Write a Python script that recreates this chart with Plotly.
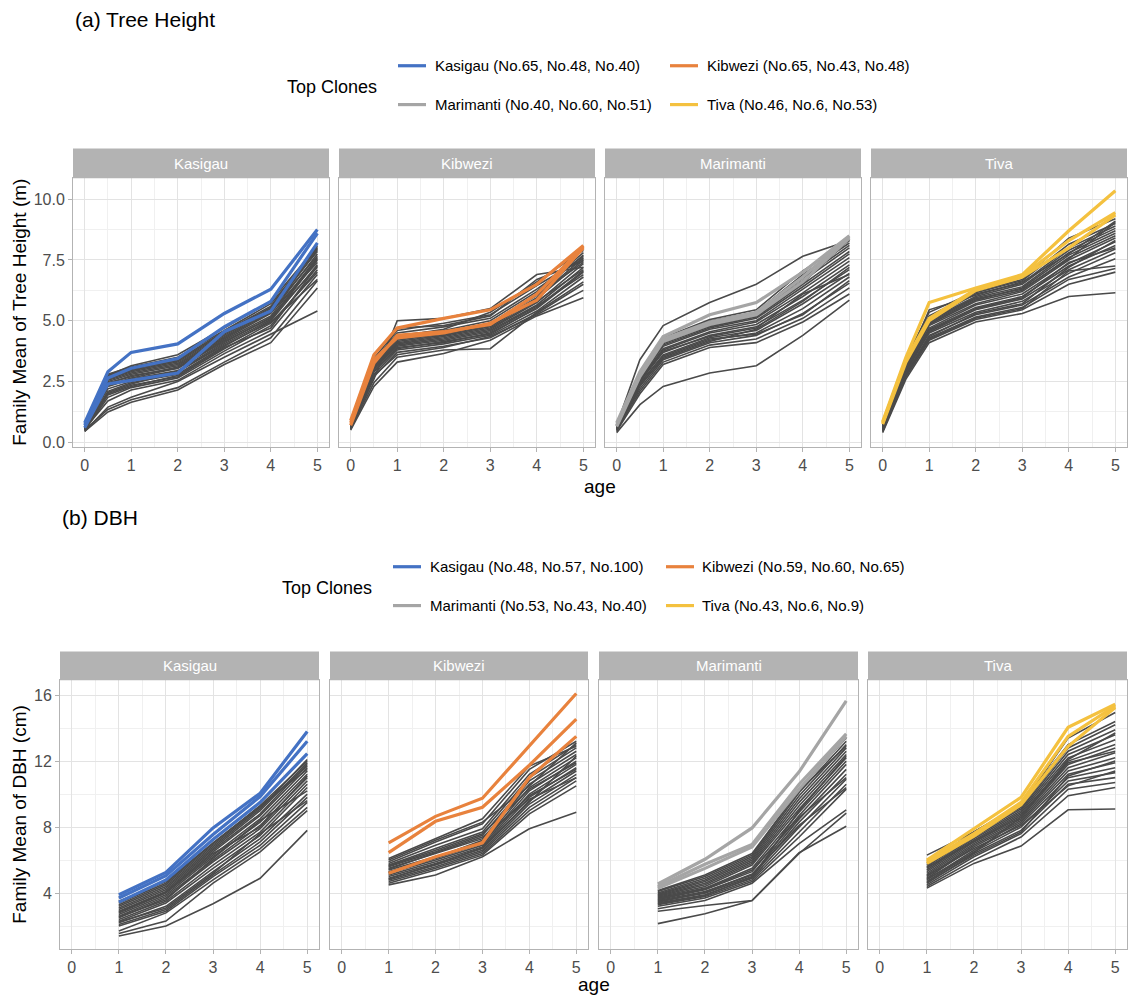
import plotly.graph_objects as go

W, H = 1128, 1001
FONT = "Liberation Sans, Arial, sans-serif"

# ---------------------------------------------------------------- data
SITES = ["Kasigau", "Kibwezi", "Marimanti", "Tiva"]
SITE_COLORS = ["#4472C4", "#E8823D", "#A5A5A5", "#F4C13F"]
FAMILY_COLOR = "#4A4A4A"

HEIGHT_AGES = [0, 0.5, 1, 2, 3, 4, 5]
DBH_AGES = [1, 2, 3, 4, 5]

height_top_labels = [
    "Kasigau (No.65, No.48, No.40)",
    "Kibwezi (No.65, No.43, No.48)",
    "Marimanti (No.40, No.60, No.51)",
    "Tiva (No.46, No.6, No.53)",
]
dbh_top_labels = [
    "Kasigau (No.48, No.57, No.100)",
    "Kibwezi (No.59, No.60, No.65)",
    "Marimanti (No.53, No.43, No.40)",
    "Tiva (No.43, No.6, No.9)",
]

# Tree height (m), family means at ages 0, 0.5, 1, 2, 3, 4, 5
height_kasigau = [
    [0.45, 1.25, 1.65, 2.15, 3.20, 4.10, 6.35],
    [0.50, 1.35, 1.75, 2.25, 3.30, 4.30, 6.65],
    [0.45, 1.45, 1.85, 2.50, 3.50, 4.45, 5.40],
    [0.55, 1.70, 2.15, 2.55, 3.65, 4.60, 6.90],
    [0.50, 1.85, 2.25, 2.65, 3.75, 4.80, 7.10],
    [0.60, 2.00, 2.35, 2.70, 3.85, 4.90, 7.00],
    [0.55, 2.10, 2.45, 2.80, 3.95, 5.00, 7.30],
    [0.65, 2.20, 2.50, 2.90, 4.05, 5.05, 7.50],
    [0.60, 2.30, 2.60, 2.95, 4.10, 5.15, 7.20],
    [0.55, 2.35, 2.65, 3.05, 4.20, 5.20, 7.60],
    [0.70, 2.45, 2.70, 3.10, 4.25, 5.30, 7.75],
    [0.65, 2.50, 2.80, 3.15, 4.30, 5.35, 7.40],
    [0.60, 2.55, 2.85, 3.20, 4.35, 5.40, 7.90],
    [0.70, 2.60, 2.90, 3.25, 4.40, 5.45, 7.65],
    [0.75, 2.65, 2.95, 3.30, 4.45, 5.50, 8.00],
    [0.65, 2.70, 3.00, 3.35, 4.50, 5.55, 7.85],
    [0.70, 2.75, 3.05, 3.40, 4.55, 5.60, 8.10],
    [0.60, 2.80, 3.10, 3.50, 4.60, 5.70, 7.95],
    [0.75, 2.75, 3.15, 3.60, 4.70, 5.80, 8.05],
    [0.55, 2.05, 2.40, 2.90, 4.00, 4.95, 6.70],
    [0.50, 1.95, 2.30, 2.75, 3.90, 4.70, 7.25],
    [0.65, 2.40, 2.75, 3.05, 4.15, 5.10, 7.55],
]
height_kasigau_top = [
    [0.80, 2.90, 3.70, 4.05, 5.30, 6.30, 8.75],
    [0.70, 2.65, 3.05, 3.45, 4.75, 5.80, 8.60],
    [0.60, 2.40, 2.55, 2.85, 4.55, 5.40, 8.20],
]

height_kibwezi = [
    [0.50, 2.30, 3.30, 3.65, 4.20, 5.20, 5.95],
    [0.55, 2.45, 3.50, 3.80, 3.85, 5.35, 6.60],
    [0.60, 2.60, 5.00, 5.10, 5.50, 6.90, 7.20],
    [0.55, 2.70, 3.70, 3.95, 4.30, 5.30, 6.50],
    [0.60, 2.80, 3.80, 4.05, 4.40, 5.40, 6.80],
    [0.65, 2.90, 3.90, 4.10, 4.50, 5.50, 7.00],
    [0.60, 3.00, 3.95, 4.20, 4.55, 5.60, 6.90],
    [0.70, 3.05, 4.00, 4.25, 4.60, 5.65, 7.20],
    [0.65, 3.10, 4.05, 4.30, 4.65, 5.75, 7.35],
    [0.75, 3.15, 4.10, 4.35, 4.70, 5.80, 7.10],
    [0.70, 3.20, 4.15, 4.40, 4.75, 5.90, 7.50],
    [0.60, 3.25, 4.20, 4.45, 4.80, 5.95, 7.60],
    [0.75, 3.30, 4.25, 4.50, 4.85, 6.05, 7.40],
    [0.70, 3.35, 4.30, 4.55, 4.90, 6.10, 7.70],
    [0.80, 3.40, 4.40, 4.60, 5.00, 6.20, 7.80],
    [0.65, 3.30, 4.50, 4.75, 5.10, 6.30, 7.65],
    [0.75, 3.45, 4.60, 4.90, 5.25, 6.45, 7.55],
    [0.70, 3.20, 4.35, 4.65, 5.35, 6.60, 7.90],
    [0.60, 2.95, 3.85, 4.15, 4.45, 5.55, 7.05],
    [0.55, 2.75, 3.60, 3.90, 4.35, 5.25, 6.25],
    [0.65, 3.10, 4.70, 4.80, 5.20, 6.70, 7.45],
]
height_kibwezi_top = [
    [0.90, 3.60, 4.70, 5.10, 5.45, 6.50, 8.10],
    [0.80, 3.40, 4.30, 4.50, 4.90, 5.85, 8.00],
    [0.70, 3.25, 4.40, 4.55, 4.85, 6.10, 8.05],
]

height_marimanti = [
    [0.40, 1.55, 2.30, 2.85, 3.15, 4.40, 5.85],
    [0.70, 3.40, 4.80, 5.75, 6.50, 7.65, 8.30],
    [0.45, 2.00, 3.20, 3.90, 4.10, 4.95, 6.10],
    [0.50, 2.10, 3.30, 4.00, 4.25, 5.10, 6.35],
    [0.55, 2.20, 3.40, 4.10, 4.40, 5.30, 6.55],
    [0.50, 2.30, 3.50, 4.20, 4.50, 5.50, 6.80],
    [0.60, 2.40, 3.60, 4.30, 4.60, 5.70, 6.95],
    [0.55, 2.50, 3.70, 4.40, 4.75, 5.85, 7.10],
    [0.65, 2.55, 3.80, 4.50, 4.85, 6.00, 7.30],
    [0.60, 2.60, 3.85, 4.55, 4.95, 6.15, 7.45],
    [0.70, 2.65, 3.95, 4.65, 5.00, 6.30, 7.60],
    [0.65, 2.70, 4.00, 4.70, 5.10, 6.40, 7.75],
    [0.60, 2.75, 4.05, 4.75, 5.15, 6.50, 7.85],
    [0.70, 2.80, 4.10, 4.85, 5.25, 6.65, 8.00],
    [0.75, 2.85, 4.20, 4.90, 5.30, 6.75, 8.10],
    [0.65, 2.90, 4.25, 5.00, 5.35, 6.90, 8.20],
    [0.70, 2.75, 4.30, 5.05, 5.45, 7.05, 8.30],
    [0.60, 2.45, 3.55, 4.25, 4.45, 5.25, 6.65],
    [0.55, 2.35, 3.45, 4.15, 4.65, 5.80, 7.20],
    [0.60, 2.60, 3.75, 4.35, 4.70, 6.10, 6.90],
    [0.65, 2.85, 4.15, 4.80, 5.20, 6.55, 8.35],
]
height_marimanti_top = [
    [0.80, 2.90, 4.35, 5.25, 5.75, 7.00, 8.50],
    [0.70, 2.80, 4.25, 4.95, 5.35, 6.80, 8.45],
    [0.65, 2.70, 4.15, 4.85, 5.25, 6.60, 8.40],
]

height_tiva = [
    [0.40, 2.60, 4.10, 4.95, 5.30, 6.00, 6.15],
    [0.45, 2.70, 4.20, 5.05, 5.45, 6.50, 7.00],
    [0.50, 2.75, 4.30, 5.15, 5.55, 6.70, 7.15],
    [0.45, 2.80, 4.40, 5.25, 5.65, 6.80, 7.55],
    [0.55, 2.90, 4.50, 5.35, 5.80, 6.95, 7.80],
    [0.50, 2.95, 4.55, 5.45, 5.90, 7.10, 7.95],
    [0.60, 3.00, 4.65, 5.55, 6.00, 7.25, 8.10],
    [0.55, 3.05, 4.70, 5.65, 6.10, 7.35, 8.25],
    [0.60, 3.10, 4.80, 5.70, 6.20, 7.50, 8.40],
    [0.65, 3.15, 4.85, 5.80, 6.25, 7.60, 8.50],
    [0.60, 3.20, 4.90, 5.85, 6.35, 7.70, 8.60],
    [0.70, 3.25, 5.00, 5.95, 6.40, 7.80, 8.70],
    [0.65, 3.30, 5.05, 6.00, 6.50, 7.90, 8.80],
    [0.70, 3.35, 5.10, 6.10, 6.55, 8.00, 8.90],
    [0.75, 3.40, 5.20, 6.15, 6.65, 8.15, 9.00],
    [0.70, 3.45, 5.35, 6.20, 6.70, 8.40, 9.20],
    [0.65, 3.20, 5.45, 6.05, 6.60, 7.75, 9.10],
    [0.55, 2.85, 4.35, 5.30, 5.70, 7.20, 8.30],
    [0.60, 3.05, 4.60, 5.50, 5.95, 7.40, 8.00],
    [0.50, 2.70, 4.25, 5.10, 5.50, 7.05, 7.25],
    [0.65, 3.30, 4.95, 5.90, 6.30, 7.55, 9.05],
]
height_tiva_top = [
    [0.85, 3.50, 5.75, 6.35, 6.90, 8.70, 10.35],
    [0.80, 3.40, 5.10, 6.30, 6.85, 8.30, 9.45],
    [0.75, 3.30, 5.00, 6.25, 6.80, 8.00, 9.35],
]

# DBH (cm), family means at ages 1-5
dbh_kasigau = [
    [1.40, 2.00, 3.35, 4.90, 7.80],
    [1.55, 2.30, 4.60, 6.50, 9.00],
    [1.70, 2.80, 4.80, 6.70, 9.20],
    [2.00, 2.90, 5.00, 6.90, 9.50],
    [2.10, 3.00, 5.10, 7.10, 9.80],
    [2.20, 3.20, 5.30, 7.30, 10.00],
    [2.30, 3.40, 5.50, 7.50, 10.40],
    [2.40, 3.50, 5.70, 7.70, 10.60],
    [2.50, 3.70, 5.90, 7.90, 10.80],
    [2.60, 3.80, 6.00, 8.10, 11.00],
    [2.70, 3.90, 6.20, 8.30, 11.20],
    [2.80, 4.00, 6.30, 8.50, 11.40],
    [2.90, 4.10, 6.50, 8.70, 11.60],
    [3.00, 4.20, 6.60, 8.80, 11.80],
    [3.10, 4.30, 6.70, 9.00, 11.90],
    [3.20, 4.40, 6.80, 9.10, 12.10],
    [3.30, 4.50, 6.90, 9.20, 11.70],
    [3.40, 4.60, 7.00, 9.30, 12.00],
    [3.50, 4.70, 7.05, 9.25, 11.50],
    [2.25, 3.10, 5.20, 7.60, 9.60],
    [2.55, 3.60, 6.10, 8.40, 10.20],
    [2.85, 4.05, 6.40, 8.00, 11.10],
]
dbh_kasigau_top = [
    [3.90, 5.25, 7.95, 10.05, 13.80],
    [3.70, 5.05, 7.55, 9.85, 13.20],
    [3.45, 4.80, 7.25, 9.50, 12.45],
]

dbh_kibwezi = [
    [4.50, 5.10, 6.20, 7.90, 8.90],
    [4.60, 5.40, 6.30, 8.80, 10.50],
    [4.70, 5.50, 6.40, 9.00, 10.80],
    [4.80, 5.60, 6.50, 9.20, 11.00],
    [4.90, 5.70, 6.60, 9.40, 11.20],
    [5.00, 5.80, 6.70, 9.60, 11.40],
    [5.10, 5.90, 6.80, 9.80, 11.60],
    [5.20, 6.00, 6.90, 10.00, 11.80],
    [5.30, 6.10, 7.00, 10.20, 12.00],
    [5.40, 6.20, 7.10, 10.40, 12.20],
    [5.50, 6.40, 7.30, 10.60, 12.40],
    [5.60, 6.50, 7.50, 10.80, 12.60],
    [5.70, 6.70, 7.70, 11.00, 12.80],
    [5.80, 6.90, 7.90, 11.20, 13.00],
    [5.90, 7.10, 8.20, 11.50, 13.20],
    [6.10, 7.30, 8.50, 11.70, 12.90],
    [6.00, 7.20, 8.30, 10.50, 13.10],
    [5.25, 6.15, 7.20, 9.90, 11.50],
    [5.45, 6.45, 7.40, 9.70, 11.00],
    [4.85, 5.75, 6.75, 9.50, 12.30],
    [5.65, 6.60, 7.60, 10.30, 11.90],
]
dbh_kibwezi_top = [
    [7.05, 8.65, 9.75, 12.90, 16.10],
    [6.45, 8.35, 9.20, 11.75, 14.55],
    [5.20, 6.20, 7.05, 11.00, 13.50],
]

dbh_marimanti = [
    [2.15, 2.75, 3.55, 6.45, 8.05],
    [2.90, 3.25, 3.55, 6.40, 8.85],
    [3.05, 3.55, 4.60, 7.00, 9.05],
    [3.20, 3.70, 4.70, 7.40, 10.30],
    [3.30, 3.80, 4.80, 7.70, 10.60],
    [3.40, 3.90, 4.90, 8.00, 10.90],
    [3.50, 4.00, 5.00, 8.30, 11.20],
    [3.55, 4.10, 5.10, 8.50, 11.50],
    [3.60, 4.20, 5.30, 8.70, 11.80],
    [3.70, 4.30, 5.50, 8.90, 12.00],
    [3.75, 4.40, 5.70, 9.10, 12.20],
    [3.80, 4.50, 5.80, 9.30, 12.40],
    [3.85, 4.60, 5.90, 9.50, 12.60],
    [3.90, 4.70, 6.00, 9.70, 12.80],
    [3.95, 4.80, 6.10, 9.90, 13.00],
    [4.00, 4.90, 6.20, 10.10, 13.20],
    [4.10, 5.00, 6.30, 10.30, 13.40],
    [4.15, 5.10, 6.40, 10.20, 12.90],
    [3.45, 4.05, 5.15, 8.10, 10.40],
    [3.65, 4.25, 5.40, 8.60, 11.00],
    [3.35, 3.85, 4.95, 9.00, 12.30],
]
dbh_marimanti_top = [
    [4.55, 6.05, 7.95, 11.35, 15.65],
    [4.40, 5.75, 6.95, 10.60, 13.65],
    [4.30, 5.50, 6.80, 10.30, 13.50],
]

dbh_tiva = [
    [4.30, 5.80, 6.85, 9.05, 9.10],
    [4.40, 6.00, 7.40, 9.90, 10.40],
    [4.50, 6.20, 7.60, 10.30, 10.70],
    [4.60, 6.40, 7.80, 10.60, 11.00],
    [4.70, 6.50, 8.00, 10.80, 11.30],
    [4.80, 6.60, 8.20, 11.00, 11.60],
    [4.90, 6.80, 8.30, 11.20, 11.90],
    [5.00, 6.90, 8.40, 11.40, 12.20],
    [5.10, 7.00, 8.50, 11.60, 12.50],
    [5.20, 7.10, 8.60, 11.80, 12.80],
    [5.30, 7.20, 8.80, 12.00, 13.00],
    [5.40, 7.30, 8.90, 12.20, 13.30],
    [5.50, 7.40, 9.00, 12.40, 13.60],
    [5.60, 7.50, 9.10, 12.60, 13.90],
    [5.70, 7.60, 9.20, 12.80, 14.20],
    [6.30, 7.70, 9.30, 13.40, 14.95],
    [5.80, 7.70, 9.40, 13.00, 14.40],
    [4.65, 6.30, 7.70, 11.10, 12.00],
    [5.05, 6.70, 8.10, 10.50, 11.40],
    [5.55, 7.15, 8.70, 11.90, 12.60],
    [4.85, 6.45, 8.60, 12.10, 13.70],
]
dbh_tiva_top = [
    [6.00, 7.90, 9.80, 14.05, 15.45],
    [5.90, 7.60, 9.50, 13.50, 15.35],
    [5.80, 7.45, 9.35, 12.90, 15.25],
]

height_families = [height_kasigau, height_kibwezi, height_marimanti, height_tiva]
height_tops = [height_kasigau_top, height_kibwezi_top, height_marimanti_top, height_tiva_top]
dbh_families = [dbh_kasigau, dbh_kibwezi, dbh_marimanti, dbh_tiva]
dbh_tops = [dbh_kasigau_top, dbh_kibwezi_top, dbh_marimanti_top, dbh_tiva_top]

# ---------------------------------------------------------------- layout geometry (pixels)
def px(x):
    return x / W


def py(y):
    return 1 - y / H


PANELS = [
    dict(
        ages=HEIGHT_AGES, families=height_families, tops=height_tops,
        labels=height_top_labels,
        facet_x=[(73, 329), (339, 595), (605, 861), (871, 1127)],
        plot_y=(179, 449), strip_top=149,
        yrange=[-0.2, 10.86], ydtick=2.5, yminor=1.25, yfmt=".1f",
        ytitle="Family Mean of Tree Height (m)",
        title="(a) Tree Height", title_xy=(73, 20), age_y=488,
        legend_title_xy=(285, 87), legend_rows=[66, 105],
        legend_key_x=[398, 670], legend_text_x=[433, 705],
    ),
    dict(
        ages=DBH_AGES, families=dbh_families, tops=dbh_tops,
        labels=dbh_top_labels,
        facet_x=[(60, 319), (330, 588), (599, 858), (868, 1127)],
        plot_y=(683, 953), strip_top=654,
        yrange=[0.6, 16.9], ydtick=4, yminor=2, yfmt="d",
        ytitle="Family Mean of DBH (cm)",
        title="(b) DBH", title_xy=(60, 520), age_y=988,
        legend_title_xy=(280, 590), legend_rows=[569, 608],
        legend_key_x=[393, 666], legend_text_x=[428, 700],
    ),
]

fig = go.Figure()
layout = dict(
    width=W, height=H, margin=dict(l=0, r=0, t=0, b=0),
    paper_bgcolor="white", plot_bgcolor="white", showlegend=False,
    font=dict(family=FONT, color="#4D4D4D"),
)
shapes, annotations = [], []

axis_n = 0
for p in PANELS:
    y0p, y1p = p["plot_y"]
    for k, site in enumerate(SITES):
        axis_n += 1
        xname = "x" if axis_n == 1 else f"x{axis_n}"
        yname = "y" if axis_n == 1 else f"y{axis_n}"
        xkey = "xaxis" if axis_n == 1 else f"xaxis{axis_n}"
        ykey = "yaxis" if axis_n == 1 else f"yaxis{axis_n}"
        x0, x1 = p["facet_x"][k]

        layout[xkey] = dict(
            domain=[px(x0), px(x1)], anchor=yname, range=[-0.25, 5.25],
            tickmode="linear", tick0=0, dtick=1,
            showgrid=True, gridcolor="#E3E3E3", gridwidth=1,
            minor=dict(dtick=0.5, tick0=0, showgrid=True, gridcolor="#F0F0F0", gridwidth=1),
            showline=True, mirror=True, linecolor="#B3B3B3", linewidth=1,
            ticks="outside", ticklen=4, tickcolor="#B3B3B3", tickwidth=1,
            tickfont=dict(size=16, color="#4D4D4D"), zeroline=False,
        )
        layout[ykey] = dict(
            domain=[py(y1p), py(y0p)], anchor=xname, range=p["yrange"],
            tickmode="linear", tick0=0, dtick=p["ydtick"], tickformat=p["yfmt"],
            showgrid=True, gridcolor="#E3E3E3", gridwidth=1,
            minor=dict(dtick=p["yminor"], tick0=0, showgrid=True, gridcolor="#F0F0F0", gridwidth=1),
            showline=True, mirror=True, linecolor="#B3B3B3", linewidth=1,
            ticks="outside" if k == 0 else "", ticklen=4, tickcolor="#B3B3B3", tickwidth=1,
            showticklabels=(k == 0),
            tickfont=dict(size=16, color="#4D4D4D"), zeroline=False,
        )

        # every family as one dark polyline trace (gaps separate families)
        xs, ys = [], []
        for fam in p["families"][k]:
            xs += list(p["ages"]) + [None]
            ys += list(fam) + [None]
        fig.add_trace(go.Scatter(
            x=xs, y=ys, mode="lines", xaxis=xname, yaxis=yname,
            line=dict(color=FAMILY_COLOR, width=1.6), hoverinfo="skip",
        ))
        # the three top clones of the site on top
        for clone in p["tops"][k]:
            fig.add_trace(go.Scatter(
                x=p["ages"], y=clone, mode="lines", xaxis=xname, yaxis=yname,
                line=dict(color=SITE_COLORS[k], width=3.2), name=site,
            ))

        # facet strip
        shapes.append(dict(
            type="rect", xref="paper", yref="paper",
            x0=px(x0), x1=px(x1), y0=py(y0p), y1=py(p["strip_top"]),
            fillcolor="#B3B3B3", line=dict(width=0), layer="above",
        ))
        annotations.append(dict(
            text=site, xref="paper", yref="paper",
            x=px((x0 + x1) / 2), y=py((p["strip_top"] + y0p) / 2),
            xanchor="center", yanchor="middle", showarrow=False,
            font=dict(size=15, color="white"),
        ))

    # panel title, axis titles
    tx, ty = p["title_xy"]
    annotations.append(dict(
        text=p["title"], xref="paper", yref="paper", x=px(tx), y=py(ty),
        xanchor="left", yanchor="middle", showarrow=False,
        font=dict(size=21, color="black"),
    ))
    annotations.append(dict(
        text=p["ytitle"], xref="paper", yref="paper", x=px(20), y=py((y0p + y1p) / 2),
        xanchor="center", yanchor="middle", textangle=-90, showarrow=False,
        font=dict(size=19, color="black"),
    ))
    left = p["facet_x"][0][0]
    right = p["facet_x"][-1][1]
    annotations.append(dict(
        text="age", xref="paper", yref="paper", x=px((left + right) / 2), y=py(p["age_y"]),
        xanchor="center", yanchor="middle", showarrow=False,
        font=dict(size=19, color="black"),
    ))

    # legend of top clones
    lx, ly = p["legend_title_xy"]
    annotations.append(dict(
        text="Top Clones", xref="paper", yref="paper", x=px(lx), y=py(ly),
        xanchor="left", yanchor="middle", showarrow=False,
        font=dict(size=18, color="black"),
    ))
    for k, label in enumerate(p["labels"]):
        row, col = divmod(k, 2)
        ry = p["legend_rows"][row]
        kx = p["legend_key_x"][col]
        shapes.append(dict(
            type="line", xref="paper", yref="paper",
            x0=px(kx), x1=px(kx + 28), y0=py(ry), y1=py(ry),
            line=dict(color=SITE_COLORS[k], width=3.2),
        ))
        annotations.append(dict(
            text=label, xref="paper", yref="paper",
            x=px(p["legend_text_x"][col]), y=py(ry),
            xanchor="left", yanchor="middle", showarrow=False,
            font=dict(size=15, color="black"),
        ))

layout["shapes"] = shapes
layout["annotations"] = annotations
fig.update_layout(**layout)
fig.write_html("out.html")
